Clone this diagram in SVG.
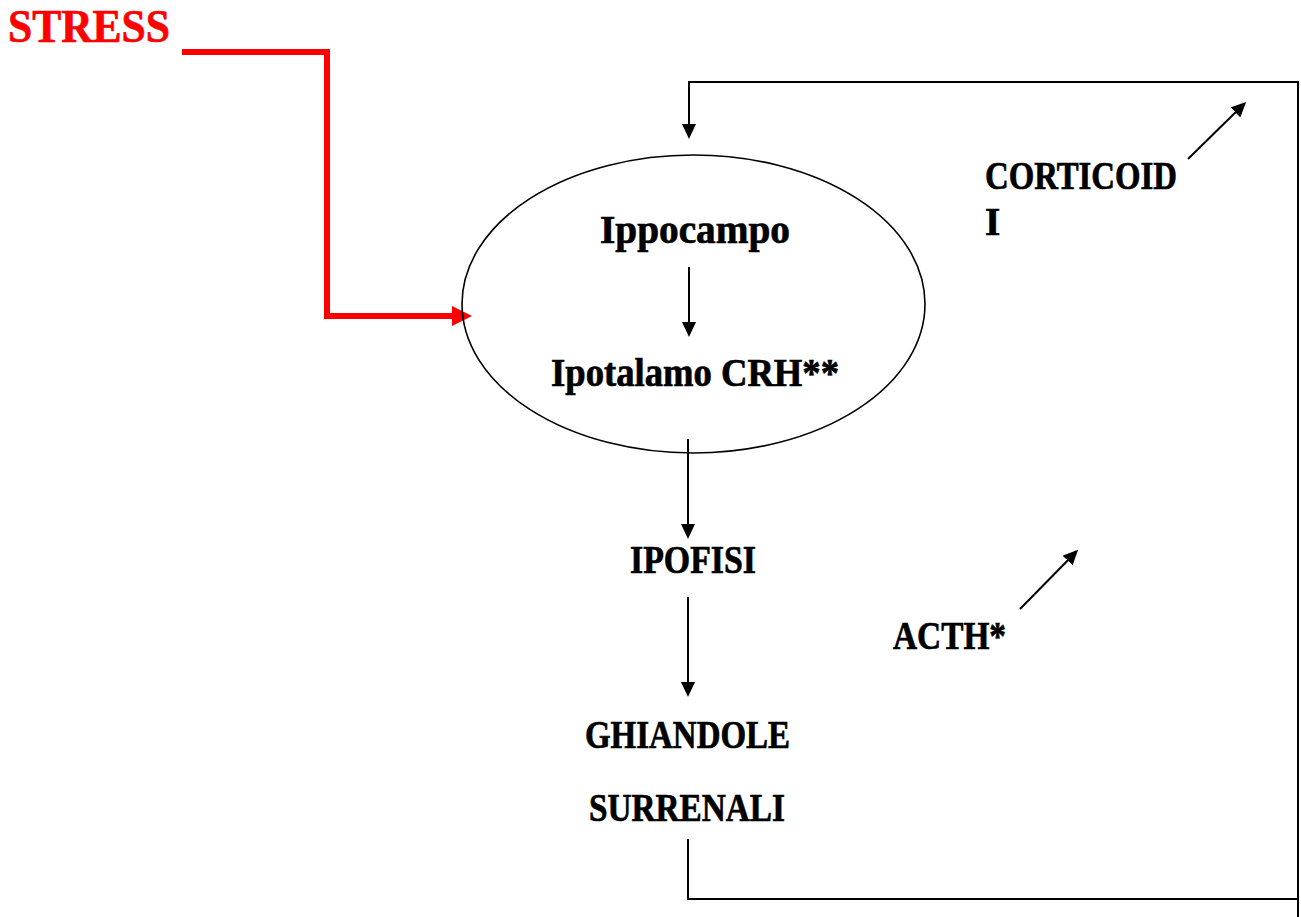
<svg xmlns="http://www.w3.org/2000/svg" width="1301" height="917" viewBox="0 0 1301 917">
<style>
.t{font-family:"Liberation Serif","Times New Roman",serif;font-weight:bold;fill:#000;stroke:#000;stroke-width:0.7;}
.ln{fill:none;stroke:#000;stroke-width:2;}
.ar{fill:none;stroke:#000;stroke-width:2;marker-end:url(#ah);}
</style>
<defs>
<marker id="ah" markerUnits="userSpaceOnUse" markerWidth="16" markerHeight="14" refX="12" refY="7" orient="auto">
<path d="M0,0 L15,7 L0,14 z" fill="#000"/>
</marker>
<marker id="rh" markerUnits="userSpaceOnUse" markerWidth="20" markerHeight="20" refX="6" refY="10" orient="auto">
<path d="M0,0 L20,10 L0,20 z" fill="#ff0000"/>
</marker>
</defs>
<rect width="1301" height="917" fill="#fff"/>
<g id="connectors">
<path d="M182,52 H327 V316 H458" fill="none" stroke="#ff0000" stroke-width="6" marker-end="url(#rh)"/>
<path class="ar" d="M689,82 V136"/>
<path class="ln" d="M688,82 H1298 V917"/>
<path class="ar" d="M689,267 V334"/>
<path class="ar" d="M688,439 V536"/>
<path class="ar" d="M688,597 V694"/>
<path class="ln" d="M688,839 V899 H1298"/>
<path class="ar" d="M1188,159 L1244,104"/>
<path class="ar" d="M1020,609 L1076,552"/>
</g>
<g id="stress">
<text class="t" x="8" y="42" font-size="47" style="fill:#ff0000;stroke:#ff0000" textLength="162" lengthAdjust="spacingAndGlyphs">STRESS</text>
</g>
<g id="brain">
<ellipse cx="693.5" cy="304" rx="231.5" ry="149" fill="none" stroke="#000" stroke-width="1.6"/>
<text class="t" x="600" y="243" font-size="40" textLength="190" lengthAdjust="spacingAndGlyphs">Ippocampo</text>
<text class="t" x="551" y="386" font-size="40" textLength="288" lengthAdjust="spacingAndGlyphs">Ipotalamo CRH**</text>
</g>
<g id="ipofisi">
<text class="t" x="630" y="573" font-size="39" textLength="126" lengthAdjust="spacingAndGlyphs">IPOFISI</text>
</g>
<g id="surrenali">
<text class="t" x="585" y="748" font-size="39" textLength="205" lengthAdjust="spacingAndGlyphs">GHIANDOLE</text>
<text class="t" x="589" y="821" font-size="39" textLength="196" lengthAdjust="spacingAndGlyphs">SURRENALI</text>
</g>
<g id="corticoidi">
<text class="t" x="985" y="189" font-size="39" textLength="192" lengthAdjust="spacingAndGlyphs">CORTICOID</text>
<text class="t" x="985" y="235" font-size="39">I</text>
</g>
<g id="acth">
<text class="t" x="893" y="649" font-size="39" textLength="113" lengthAdjust="spacingAndGlyphs">ACTH*</text>
</g>
</svg>
